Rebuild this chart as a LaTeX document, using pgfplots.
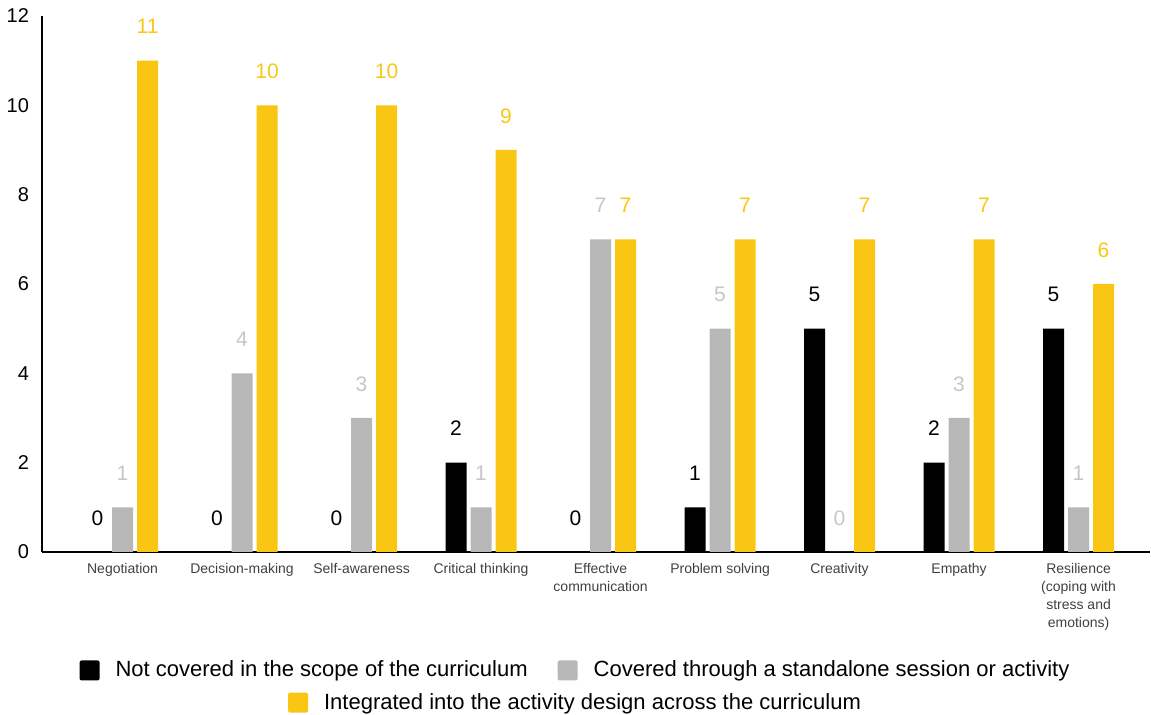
\documentclass[border=0pt]{standalone}
\usepackage{fontspec}
\setmainfont{Liberation Sans}
\usepackage{pgfplots}
\pgfplotsset{compat=1.18}
\definecolor{cblack}{HTML}{000000}
\definecolor{cgray}{HTML}{B7B7B7}
\definecolor{cgraylab}{HTML}{C6C6C6}
\definecolor{cyellow}{HTML}{F9C713}
\begin{document}
\begin{tikzpicture}
\useasboundingbox (-21pt,-81.5pt) rectangle (554.5pt,276pt);
\begin{axis}[
  at={(0,0)}, anchor=south west,
  scale only axis, width=554pt, height=268pt,
  /pgf/number format/assume math mode=true,
  xmin=-0.674, xmax=8.598, ymin=0, ymax=12,
  axis lines=left, axis line style={-, line width=0.8pt, black},
  ytick={0,2,...,12}, xtick={0,...,8},
  major tick length=0pt,
  xticklabels={Negotiation, Decision-making, Self-awareness, Critical thinking, Effective\\communication, Problem solving, Creativity, Empathy, Resilience\\(coping with\\stress and\\emotions)},
  xticklabel style={font=\fontsize{7}{9}\selectfont, align=center, text=black!75, anchor=north, yshift=-2pt},
  yticklabel style={font=\fontsize{10}{12}\selectfont, anchor=east, xshift=-3pt},
  legend style={at={(0.4824,-0.221)}, anchor=center, draw=none, font=\fontsize{11}{13}\selectfont,
     legend columns=2, /tikz/every even column/.append style={column sep=13pt},
     /tikz/every odd column/.append style={column sep=6pt}},
  legend image code/.code={\fill[#1, rounded corners=1pt] (0pt,-5pt) rectangle (10pt,5pt);},
  nodes near coords,
]
\addplot[ybar, fill=cblack, draw=none, bar width=10.5pt, bar shift=-12.5pt,
  nodes near coords style={font=\fontsize{10.5}{12}\selectfont, text=cblack, anchor=center, yshift=17pt, xshift=-12.5pt}]
  coordinates {(0,0) (1,0) (2,0) (3,2) (4,0) (5,1) (6,5) (7,2) (8,5)};
\addplot[ybar, fill=cgray, draw=none, bar width=10.5pt, bar shift=0pt,
  nodes near coords style={font=\fontsize{10.5}{12}\selectfont, text=cgraylab, anchor=center, yshift=17pt}]
  coordinates {(0,1) (1,4) (2,3) (3,1) (4,7) (5,5) (6,0) (7,3) (8,1)};
\addplot[ybar, fill=cyellow, draw=none, bar width=10.5pt, bar shift=12.5pt,
  nodes near coords style={font=\fontsize{10.5}{12}\selectfont, text=cyellow, anchor=center, yshift=17pt, xshift=12.5pt}]
  coordinates {(0,11) (1,10) (2,10) (3,9) (4,7) (5,7) (6,7) (7,7) (8,6)};
\legend{Not covered in the scope of the curriculum, Covered through a standalone session or activity}
\end{axis}
\begin{axis}[
  at={(0,0)}, anchor=south west,
  scale only axis, width=554pt, height=268pt,
  hide axis, xmin=0, xmax=1, ymin=0, ymax=1,
  legend style={at={(0.4824,-0.281)}, anchor=center, draw=none, font=\fontsize{11}{13}\selectfont,
     /tikz/every odd column/.append style={column sep=6pt}},
  legend image code/.code={\fill[#1, rounded corners=1pt] (0pt,-5pt) rectangle (10pt,5pt);},
]
\addlegendimage{fill=cyellow, draw=none}
\addlegendentry{Integrated into the activity design across the curriculum}
\end{axis}
\end{tikzpicture}
\end{document}
